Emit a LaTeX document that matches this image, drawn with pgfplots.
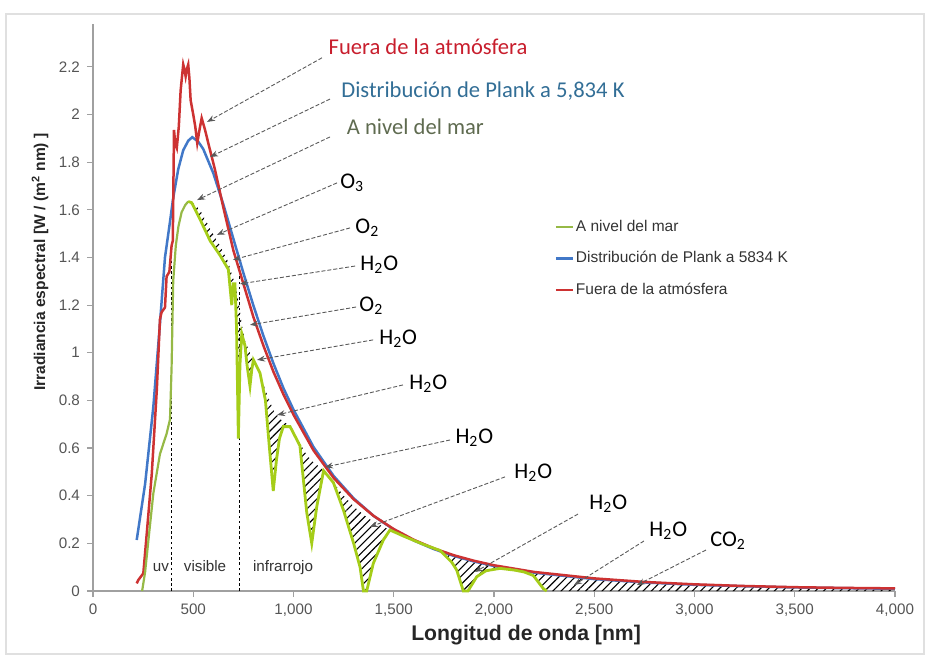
\documentclass[border=0pt]{standalone}
\usepackage{fontspec}
\setmainfont{Liberation Sans}
\newfontfamily\calfont{Carlito}
\usepackage{pgfplots}
\pgfplotsset{compat=1.18}
\usepgfplotslibrary{fillbetween}
\usetikzlibrary{patterns.meta,arrows.meta}
\definecolor{cred}{RGB}{205,50,50}
\definecolor{cblue}{RGB}{65,120,200}
\definecolor{colive}{RGB}{150,185,70}
\definecolor{clime}{RGB}{165,205,25}
\definecolor{tred}{RGB}{200,30,45}
\definecolor{tblue}{RGB}{50,110,150}
\definecolor{tgreen}{RGB}{95,107,80}
\definecolor{axgray}{RGB}{160,160,160}
\definecolor{txtgray}{RGB}{85,85,85}
\definecolor{arrgray}{RGB}{90,90,90}
\tikzset{arr/.style={arrgray, line width=0.45pt, dash pattern=on 2pt off 1pt, -{Stealth[length=4pt,width=3pt]}},
  mol/.style={font=\calfont\fontsize{11.2}{13}\selectfont, text=black, anchor=west, inner sep=1pt},
  big/.style={font=\calfont\fontsize{11.3}{13}\selectfont}}
\begin{document}
\begin{tikzpicture}
\path (-46.5pt,-34.5pt) rectangle (418.5pt,295.5pt);
\draw[black!12, line width=0.6pt] (-43.5pt,-31.5pt) rectangle (415.5pt,288.5pt);
\begin{axis}[
  at={(0pt,0pt)}, anchor=south west,
  scale only axis, width=401pt, height=283.5pt,
  xmin=0, xmax=4000, ymin=0, ymax=2.38,
  clip=false,
  axis x line*=bottom, axis y line*=left,
  axis line style={axgray, line width=0.6pt},
  tick align=outside, major tick length=3pt,
  tick style={axgray, line width=0.6pt},
  xtick={0,500,1000,1500,2000,2500,3000,3500,4000},
  xticklabels={0,500,{1,000},{1,500},{2,000},{2,500},{3,000},{3,500},{4,000}},
  ytick={0,0.2,0.4,0.6,0.8,1,1.2,1.4,1.6,1.8,2,2.2},
  yticklabels={0,0.2,0.4,0.6,0.8,1,1.2,1.4,1.6,1.8,2,2.2},
  ticklabel style={font=\fontsize{7.6}{9}\selectfont, text=txtgray},
  xlabel={Longitud de onda [nm]},
  xlabel style={font=\bfseries\fontsize{10.6}{12}\selectfont, text=black!85, at={(axis description cs:0.54,0)}, anchor=north, yshift=-13.5pt},
  ylabel={Irradiancia espectral [W / (m\textsuperscript{2} nm) ]},
  ylabel style={font=\bfseries\fontsize{7.8}{9}\selectfont, text=black!85, at={(axis description cs:-0.066,0.58)}, anchor=center},
  legend style={draw=none, fill=none, at={(axis cs:2300,1.575)}, anchor=north west, font=\fontsize{7.75}{9}\selectfont, text=black!80, row sep=4.5pt, inner sep=0pt, nodes={inner xsep=1pt}},
  legend cell align=left,
  legend image code/.code={\draw[#1, line width=1.2pt] (0pt,0pt) -- (8.5pt,0pt);},
]
\addlegendimage{colive}
\addlegendentry{A nivel del mar}
\addlegendimage{cblue}
\addlegendentry{Distribución de Plank a 5834 K}
\addlegendimage{cred}
\addlegendentry{Fuera de la atmósfera}

% envelope (upper limit of absorption hatching)
\addplot[draw=none, name path=E, forget plot] coordinates {
(475,1.635)(492,1.635)(534,1.60)(584,1.52)(633,1.45)(675,1.38)(692,1.33)(708,1.29)(725,1.22)(742,1.12)(758,1.05)(783,1.00)(800,0.97)(833,0.915)(866,0.83)(899,0.76)(930,0.725)(949,0.71)(983,0.695)(1032,0.62)(1066,0.57)(1100,0.54)(1132,0.52)(1150,0.505)(1199,0.455)(1250,0.40)(1300,0.355)(1349,0.32)(1400,0.29)(1448,0.27)(1481,0.256)(1550,0.23)(1650,0.195)(1731,0.17)(1800,0.15)(1847,0.14)(1900,0.125)(1960,0.11)(2030,0.10)(2100,0.091)(2200,0.078)(2300,0.068)(2500,0.051)(3000,0.027)(3500,0.016)(4000,0.010)};
% sea level curve for filling
\addplot[draw=none, name path=G, forget plot] coordinates {
(475,1.635)(492,1.63)(534,1.56)(584,1.47)(633,1.41)(675,1.35)(692,1.20)(700,1.29)(708,1.29)(716,1.10)(725,0.64)(733,0.95)(742,1.08)(758,1.03)(768,0.95)(783,0.86)(792,0.93)(800,0.97)(833,0.915)(860,0.80)(880,0.60)(899,0.42)(915,0.55)(930,0.64)(949,0.69)(983,0.69)(1032,0.61)(1066,0.33)(1091,0.20)(1116,0.354)(1150,0.505)(1199,0.455)(1249,0.34)(1300,0.20)(1332,0.10)(1349,0.0)(1365,0.0)(1398,0.116)(1448,0.214)(1481,0.256)(1550,0.23)(1650,0.195)(1731,0.17)(1790,0.12)(1814,0.088)(1847,0.0)(1870,0.0)(1914,0.06)(1960,0.085)(2030,0.095)(2100,0.088)(2150,0.08)(2196,0.065)(2246,0.01)(2263,0.0)(2500,0.0)(3000,0.0)(4000,0.0)};
\addplot[draw=none, pattern={Lines[angle=45,distance=2.9pt,line width=0.55pt]}, pattern color=black, forget plot] fill between[of=E and G];

\draw[black, line width=0.7pt, dash pattern=on 1.3pt off 1.3pt] (axis cs:392,0) -- (axis cs:392,1.45);
\draw[black, line width=0.7pt, dash pattern=on 1.3pt off 1.3pt] (axis cs:730,0) -- (axis cs:730,1.40);

% Planck distribution
\addplot[cblue, line width=1.25pt, forget plot] coordinates {
(218,0.214)(260,0.45)(301,0.774)(330,1.08)(359,1.40)(384,1.55)(400,1.65)(425,1.77)(450,1.85)(475,1.89)(495,1.905)(525,1.886)(550,1.855)(600,1.754)(650,1.623)(700,1.479)(750,1.335)(800,1.198)(850,1.071)(900,0.955)(950,0.851)(1000,0.761)(1100,0.604)(1200,0.483)(1300,0.389)(1400,0.315)(1500,0.258)(1600,0.212)(1700,0.176)(1800,0.147)(1900,0.124)(2000,0.105)(2200,0.077)(2500,0.050)(2750,0.036)(3000,0.026)(3250,0.020)(3500,0.015)(3750,0.012)(4000,0.0094)};
% outside atmosphere
\addplot[cred, line width=1.25pt, forget plot] coordinates {
(218,0.032)(226,0.046)(251,0.074)(268,0.24)(293,0.49)(318,0.84)(334,1.14)(342,1.17)(359,1.19)(367,1.32)(381,1.34)(392,1.45)(398,1.47)(404,1.935)(410,1.88)(418,1.86)(428,1.95)(437,2.10)(444,2.16)(450,2.21)(456,2.19)(462,2.16)(468,2.19)(475,2.21)(481,2.15)(487,2.06)(500,2.00)(510,1.95)(520,1.88)(530,1.93)(542,1.985)(559,1.935)(575,1.88)(608,1.77)(650,1.61)(700,1.43)(750,1.29)(800,1.15)(850,1.03)(900,0.92)(950,0.825)(1000,0.74)(1100,0.59)(1200,0.475)(1300,0.385)(1400,0.315)(1500,0.26)(1600,0.215)(1700,0.179)(1800,0.15)(1900,0.127)(2000,0.108)(2200,0.08)(2500,0.053)(2750,0.038)(3000,0.028)(3250,0.021)(3500,0.016)(3750,0.013)(4000,0.011)};
% sea level
\addplot[colive, line width=1.1pt, forget plot] coordinates {
(245,0.0)(260,0.08)(276,0.21)(301,0.41)(334,0.575)(367,0.66)(384,0.72)(392,0.94)(400,1.30)(413,1.45)(426,1.53)(442,1.59)(460,1.62)(475,1.635)};
\addplot[clime, line width=1.4pt, forget plot] coordinates {
(475,1.635)(492,1.63)(534,1.56)(584,1.47)(633,1.41)(675,1.35)(692,1.20)(700,1.29)(708,1.29)(716,1.10)(725,0.64)(733,0.95)(742,1.08)(758,1.03)(768,0.95)(783,0.86)(792,0.93)(800,0.97)(833,0.915)(860,0.80)(880,0.60)(899,0.42)(915,0.55)(930,0.64)(949,0.69)(983,0.69)(1032,0.61)(1066,0.33)(1091,0.20)(1116,0.354)(1150,0.505)(1199,0.455)(1249,0.34)(1300,0.20)(1332,0.10)(1349,0.0)(1365,0.0)(1398,0.116)(1448,0.214)(1481,0.256)(1550,0.23)(1650,0.195)(1731,0.17)(1790,0.12)(1814,0.088)(1847,0.0)(1870,0.0)(1914,0.06)(1960,0.085)(2030,0.095)(2100,0.088)(2150,0.08)(2196,0.065)(2246,0.01)(2263,0.0)};

% region labels
\node[font=\fontsize{7.6}{9}\selectfont, text=black!80, anchor=base] at (axis cs:339,0.083) {uv};
\node[font=\fontsize{7.6}{9}\selectfont, text=black!80, anchor=base] at (axis cs:559,0.083) {visible};
\node[font=\fontsize{7.6}{9}\selectfont, text=black!80, anchor=base] at (axis cs:948,0.083) {infrarrojo};

% arrows
\draw[arr] (axis cs:1142,2.238) -- (axis cs:569,1.969);
\draw[arr] (axis cs:1182,2.065) -- (axis cs:584,1.822);
\draw[arr] (axis cs:1182,1.906) -- (axis cs:519,1.641);
\draw[arr] (axis cs:1217,1.713) -- (axis cs:618,1.495);
\draw[arr] (axis cs:1282,1.524) -- (axis cs:698,1.39);
\draw[arr] (axis cs:1307,1.364) -- (axis cs:733,1.289);
\draw[arr] (axis cs:1312,1.192) -- (axis cs:783,1.117);
\draw[arr] (axis cs:1397,1.054) -- (axis cs:818,0.97);
\draw[arr] (axis cs:1546,0.865) -- (axis cs:918,0.739);
\draw[arr] (axis cs:1781,0.634) -- (axis cs:1157,0.52);
\draw[arr] (axis cs:2055,0.479) -- (axis cs:1382,0.269);
\draw[arr] (axis cs:2419,0.323) -- (axis cs:1905,0.08);
\draw[arr] (axis cs:2748,0.21) -- (axis cs:2399,0.025);
\draw[arr] (axis cs:3057,0.172) -- (axis cs:2713,0.025);

% titles
\node[big, text=tred] at (axis cs:1671,2.284) {Fuera de la atmósfera};
\node[big, text=tblue] at (axis cs:1945,2.099) {Distribución de Plank a 5,834 K};
\node[big, text=tgreen] at (axis cs:1608,1.948) {A nivel del mar};

% molecules
\node[mol] at (axis cs:1222,1.713) {O\textsubscript{3}};
\node[mol] at (axis cs:1297,1.524) {O\textsubscript{2}};
\node[mol] at (axis cs:1322,1.369) {H\textsubscript{2}O};
\node[mol] at (axis cs:1317,1.196) {O\textsubscript{2}};
\node[mol] at (axis cs:1416,1.058) {H\textsubscript{2}O};
\node[mol] at (axis cs:1566,0.869) {H\textsubscript{2}O};
\node[mol] at (axis cs:1796,0.642) {H\textsubscript{2}O};
\node[mol] at (axis cs:2090,0.495) {H\textsubscript{2}O};
\node[mol] at (axis cs:2464,0.365) {H\textsubscript{2}O};
\node[mol] at (axis cs:2763,0.252) {H\textsubscript{2}O};
\node[mol] at (axis cs:3067,0.21) {CO\textsubscript{2}};
\end{axis}
\end{tikzpicture}
\end{document}
